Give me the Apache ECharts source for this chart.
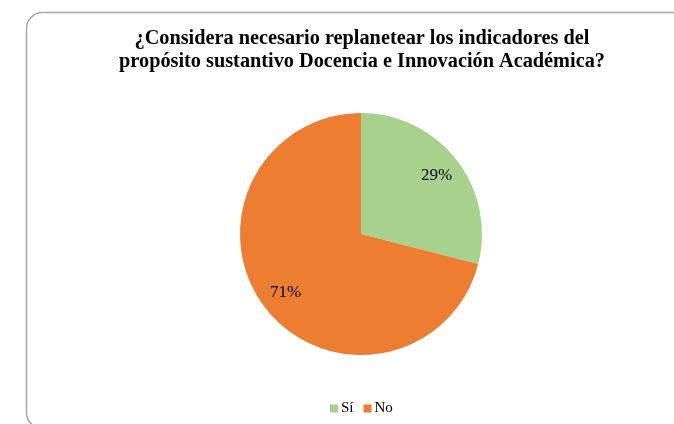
<!DOCTYPE html>
<html>
<head>
<meta charset="utf-8">
<script src="https://cdn.jsdelivr.net/npm/echarts@6/dist/echarts.min.js"></script>
<style>
  html, body { margin: 0; padding: 0; background: #ffffff; }
  #chart { width: 674px; height: 424px; }
</style>
</head>
<body>
<div id="chart"></div>
<script>
// Survey answers and their shares
const categories = ['Sí', 'No'];
const shares = [29, 71];
const colors = ['#A9D18E', '#ED7D31'];

const titleText = '¿Considera necesario replanetear los indicadores del\npropósito sustantivo Docencia e Innovación Académica?';

const pieCenter = [361, 234];
const pieRadius = 121;
const labelRatio = 0.79;

const total = shares.reduce((a, b) => a + b, 0);

// Place each percentage label along its slice's mid-angle, well inside the slice
function labelPosition(dataIndex) {
  let before = 0;
  for (let i = 0; i < dataIndex; i++) before += shares[i];
  const mid = (before + shares[dataIndex] / 2) / total * Math.PI * 2;
  const r = pieRadius * labelRatio;
  return {
    x: pieCenter[0] + r * Math.sin(mid),
    y: pieCenter[1] - r * Math.cos(mid),
    align: 'center',
    verticalAlign: 'middle'
  };
}

const serif = '"Liberation Serif", "Times New Roman", serif';

const chart = echarts.init(document.getElementById('chart'), null, { renderer: 'canvas' });

chart.setOption({
  animation: false,
  backgroundColor: '#ffffff',
  graphic: [{
    type: 'rect',
    shape: { x: 26.5, y: 12.5, width: 700, height: 416, r: 16 },
    style: { fill: 'none', stroke: '#a6a6a6', lineWidth: 1.5 },
    silent: true,
    z: 0
  }],
  title: {
    text: titleText,
    left: 357,
    top: 22,
    textAlign: 'center',
    textStyle: {
      fontFamily: serif,
      fontWeight: 'bold',
      fontSize: 20.3,
      lineHeight: 23,
      color: '#000000'
    }
  },
  legend: {
    data: categories,
    top: 401,
    left: 330,
    padding: 0,
    itemWidth: 8,
    itemHeight: 8,
    itemGap: 10,
    icon: 'rect',
    textStyle: {
      fontFamily: serif,
      fontSize: 15,
      color: '#000000',
      padding: [0, 0, 0, -2]
    }
  },
  series: [{
    type: 'pie',
    center: pieCenter,
    radius: pieRadius,
    startAngle: 90,
    clockwise: true,
    color: colors,
    itemStyle: { borderWidth: 0 },
    label: {
      show: true,
      position: 'inside',
      formatter: p => p.value + '%',
      fontFamily: serif,
      fontSize: 17,
      color: '#000000'
    },
    labelLayout: p => labelPosition(p.dataIndex),
    labelLine: { show: false },
    emphasis: { disabled: true },
    data: categories.map((c, i) => ({ name: c, value: shares[i] }))
  }]
});
</script>
</body>
</html>
